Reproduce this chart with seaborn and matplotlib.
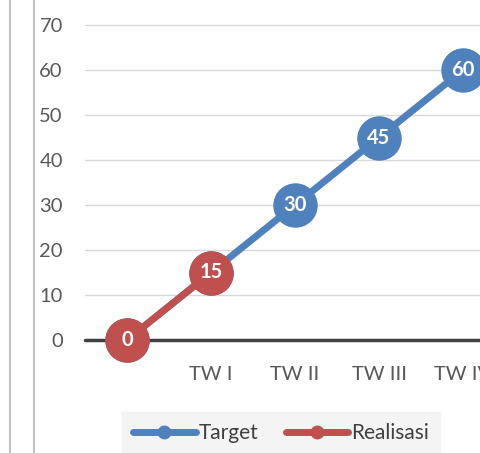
import matplotlib
matplotlib.use('Agg')
import matplotlib.pyplot as plt
import pandas as pd
import seaborn as sns
from matplotlib.lines import Line2D

# data
kategori = ['', 'TW I', 'TW II', 'TW III', 'TW IV']
target = [0, 15, 30, 45, 60]
realisasi = [0, 15]

biru = '#4F81BD'
merah = '#C0504D'
abu = '#595959'

sns.set_theme(style='white')
plt.rcParams['font.family'] = ['Lato', 'DejaVu Sans']

df_t = pd.DataFrame({'pos': range(len(target)), 'nilai': target})
df_r = pd.DataFrame({'pos': range(len(realisasi)), 'nilai': realisasi})

fig = plt.figure(figsize=(4.81, 4.53), dpi=100)
ax = fig.add_axes([85/481, 113/453, 420/481, 315/453])

for yv in range(10, 71, 10):
    ax.axhline(yv, color='#d9d9d9', lw=1, zorder=0)
ax.axhline(0, color='#404040', lw=2.5, zorder=1)

sns.lineplot(data=df_t, x='pos', y='nilai', ax=ax, color=biru, lw=5,
             marker='o', markersize=32, markeredgewidth=0, zorder=3)
sns.lineplot(data=df_r, x='pos', y='nilai', ax=ax, color=merah, lw=5,
             marker='o', markersize=32, markeredgewidth=0, zorder=4)
for ln in ax.lines:
    ln.set_clip_on(False)

for i, v in enumerate(target):
    if i >= len(realisasi):
        ax.text(i, v, str(v), color='white', fontsize=14.5, fontweight='bold',
                ha='center', va='center', zorder=5)
for i, v in enumerate(realisasi):
    ax.text(i, v, str(v), color='white', fontsize=14.5, fontweight='bold',
            ha='center', va='center', zorder=6)

ax.set_xlim(-0.5, 4.5)
ax.set_ylim(0, 70)
ax.set_yticks(range(0, 71, 10))
ax.set_xticks(range(len(kategori)))
ax.set_xticklabels(kategori)
ax.tick_params(axis='x', length=0, pad=19, labelsize=14.5, labelcolor=abu)
ax.tick_params(axis='y', length=0, pad=16, labelsize=14.5, labelcolor=abu)
ax.set_xlabel('')
ax.set_ylabel('')
for s in ax.spines.values():
    s.set_visible(False)
ax.patch.set_alpha(0)

# border lines on the left
for xp in (10, 34):
    fig.add_artist(Line2D([xp/481, xp/481], [0, 1], color='#c0c0c0', lw=1.5,
                          transform=fig.transFigure))

handles = [
    Line2D([], [], color=biru, lw=5, marker='o', markersize=9, label='Target'),
    Line2D([], [], color=merah, lw=5, marker='o', markersize=9, label='Realisasi'),
]
leg = fig.legend(handles=handles, loc='center', bbox_to_anchor=(281/481, 1 - 433/453),
                 ncol=2, frameon=True, fontsize=15, handlelength=3.0,
                 handletextpad=0.15, columnspacing=1.3, fancybox=False,
                 borderpad=0.55)
leg.get_frame().set_facecolor('#f2f2f2')
leg.get_frame().set_edgecolor('#f2f2f2')
for t in leg.get_texts():
    t.set_color('#404040')

fig.savefig('out.png', dpi=100)
